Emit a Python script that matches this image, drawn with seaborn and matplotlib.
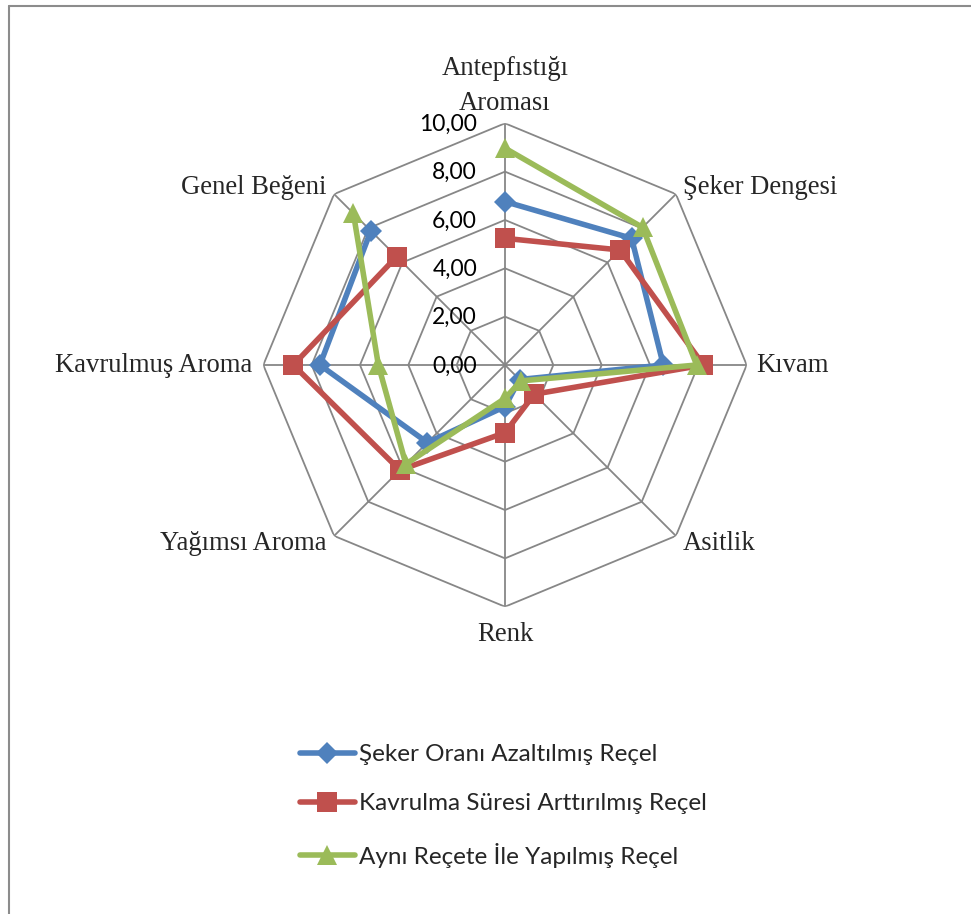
import numpy as np
import pandas as pd
import matplotlib
matplotlib.use("Agg")
import matplotlib.pyplot as plt
import matplotlib.transforms as mtransforms
from matplotlib.lines import Line2D
import seaborn as sns

# ---------------- data ----------------
categories = ["Antepfıstığı\nAroması", "Şeker Dengesi", "Kıvam", "Asitlik",
              "Renk", "Yağımsı Aroma", "Kavrulmuş Aroma", "Genel Beğeni"]
seker_azaltilmis = [6.76, 7.41, 6.55, 0.85, 1.72, 4.54, 7.66, 7.85]
kavrulma_arttirilmis = [5.24, 6.73, 8.21, 1.71, 2.80, 6.15, 8.76, 6.34]
ayni_recete = [8.97, 8.05, 7.93, 0.93, 1.38, 5.80, 5.24, 8.87]
series_names = ["Şeker Oranı Azaltılmış Reçel",
                "Kavrulma Süresi Arttırılmış Reçel",
                "Aynı Reçete İle Yapılmış Reçel"]
tick_values = [0, 2, 4, 6, 8, 10]
tick_labels = ["0,00", "2,00", "4,00", "6,00", "8,00", "10,00"]

# ---------------- style ----------------
sns.set_style("white")
plt.rcParams["font.family"] = ["Lato", "DejaVu Sans"]

colors = ["#4F81BD", "#C0504D", "#9BBB59"]
markers = ["D", "s", "^"]
msizes = [11, 14, 14]
grid_color = "#878787"

W, H = 971, 914
fig = plt.figure(figsize=(W / 100, H / 100), dpi=100)
cx, cy, R = 505, 365, 241.7
ax = fig.add_axes([(cx - R) / W, (H - cy - R) / H, 2 * R / W, 2 * R / H],
                  projection="polar")
ax.set_theta_offset(np.pi / 2)
ax.set_theta_direction(-1)
ax.set_ylim(0, 10)
ax.grid(False)
ax.spines["polar"].set_visible(False)
ax.set_xticks([])
ax.set_yticks([])
ax.patch.set_alpha(0)

n = len(categories)
angles = np.arange(n) * 2 * np.pi / n
closed = np.append(angles, angles[0])

# grid polygons and spokes
for r in tick_values[1:]:
    ax.plot(closed, [r] * (n + 1), color=grid_color, lw=1.3, zorder=1)
for a in angles:
    ax.plot([a, a], [0, 10], color=grid_color, lw=1.3, zorder=1)

# series
all_series = [seker_azaltilmis, kavrulma_arttirilmis, ayni_recete]
for vals, name, col, mk, ms in zip(all_series, series_names, colors, markers, msizes):
    df = pd.DataFrame({"theta": closed, "value": np.append(vals, vals[0])})
    sns.lineplot(data=df, x="theta", y="value", sort=False, ax=ax, color=col,
                 lw=4, marker=mk, markersize=ms, markeredgewidth=0, zorder=3,
                 legend=False)
ax.set_xlabel("")
ax.set_ylabel("")
ax.set_ylim(0, 10)

# radial tick labels
tick_tr = mtransforms.offset_copy(ax.transData, fig=fig, x=-28, y=-1, units="dots")
for v, lab in zip(tick_values, tick_labels):
    ax.text(0, v, lab, transform=tick_tr, ha="right", va="center",
            fontsize=16.5, color="black", zorder=5)

# category labels (pixel offsets from the outer vertex)
label_style = [
    (0, 7, "center", "bottom"),
    (7, 7, "left", "center"),
    (10, 0, "left", "center"),
    (7, -8, "left", "center"),
    (0, -15, "center", "top"),
    (-8, -8, "right", "center"),
    (-11, 0, "right", "center"),
    (-8, 7, "right", "center"),
]
for a, lab, (dx, dy, ha, va) in zip(angles, categories, label_style):
    tr = mtransforms.offset_copy(ax.transData, fig=fig, x=dx, y=dy, units="dots")
    ax.text(a, 10, lab, transform=tr, ha=ha, va=va, multialignment="center",
            fontsize=19.2, family=["Liberation Serif", "DejaVu Serif"],
            linespacing=1.55, clip_on=False)

# legend
handles = [Line2D([], [], color=c, lw=4, marker=m, markersize=ms, markeredgewidth=0)
           for c, m, ms in zip(colors, markers, msizes)]
fig.legend(handles, series_names, loc="upper left",
           bbox_to_anchor=(300 / W, 1 - 744 / H), frameon=False, fontsize=17.5,
           handlelength=2.26, handletextpad=0.16, labelspacing=1.17,
           borderpad=0, borderaxespad=0, numpoints=1)

# chart border (left and top)
fig.add_artist(Line2D([9 / W, 9 / W], [0, 1 - 6 / H], transform=fig.transFigure,
                      color="#8c8c8c", lw=1.5))
fig.add_artist(Line2D([9 / W, 1], [1 - 6 / H, 1 - 6 / H], transform=fig.transFigure,
                      color="#8c8c8c", lw=1.5))

fig.savefig("out.png", dpi=100, facecolor="white")
